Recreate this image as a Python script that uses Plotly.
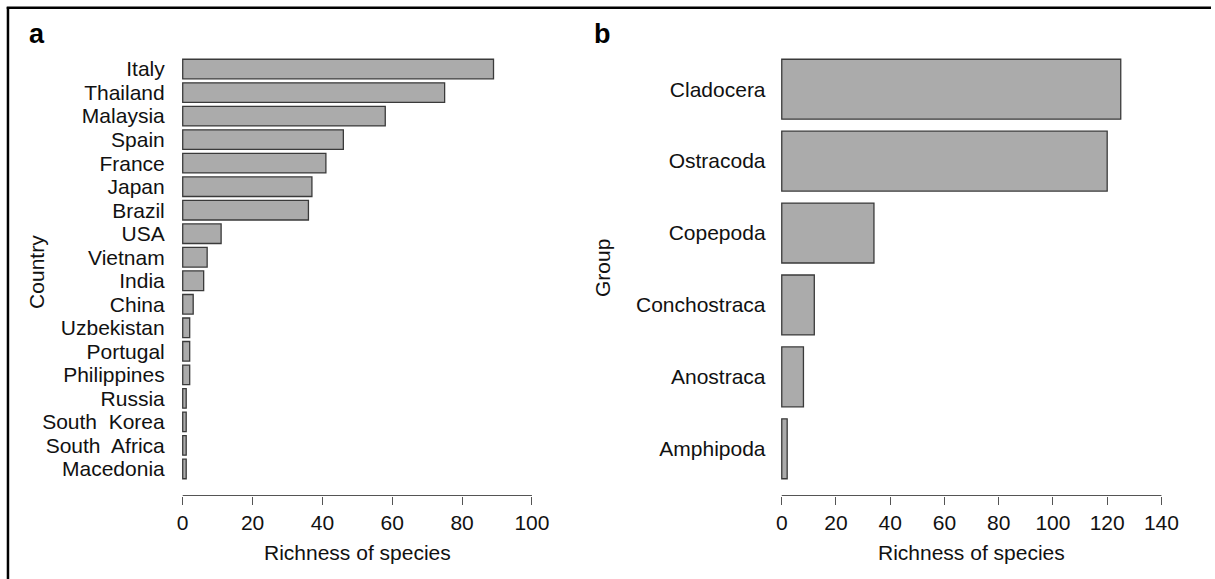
import plotly.graph_objects as go

# ---- data ----
countries = ["Italy", "Thailand", "Malaysia", "Spain", "France", "Japan", "Brazil", "USA",
             "Vietnam", "India", "China", "Uzbekistan", "Portugal", "Philippines", "Russia",
             "South\u00a0 Korea", "South\u00a0 Africa", "Macedonia"]
country_richness = [89, 75, 58, 46, 41, 37, 36, 11, 7, 6, 3, 2, 2, 2, 1, 1, 1, 1]

groups = ["Cladocera", "Ostracoda", "Copepoda", "Conchostraca", "Anostraca", "Amphipoda"]
group_richness = [125, 120, 34, 12, 8, 2]

ticks_a = [0, 20, 40, 60, 80, 100]
ticks_b = [0, 20, 40, 60, 80, 100, 120, 140]

W, H = 1215, 579
FONT = "Liberation Sans, Arial, sans-serif"
FS = 21
BAR_FILL = "#ABABAB"
BAR_LINE = "#3a3a3a"
AX_COL = "#555555"

def px(x):
    return x / W

def py(y):
    return 1 - y / H

fig = go.Figure()
fig.add_trace(go.Bar(x=country_richness, y=countries, orientation="h",
                     marker=dict(color=BAR_FILL, line=dict(color=BAR_LINE, width=1.3)),
                     xaxis="x", yaxis="y", showlegend=False))
fig.add_trace(go.Bar(x=group_richness, y=groups, orientation="h",
                     marker=dict(color=BAR_FILL, line=dict(color=BAR_LINE, width=1.3)),
                     xaxis="x2", yaxis="y2", showlegend=False))

# R-style 4% padding around bar extent
bw = 1 / 1.2
pad_a = 0.713
pad_b = 0.233
ydom = [py(495.5), py(42.5)]

common_x = dict(showgrid=False, zeroline=False, showline=False, ticks="outside", ticklen=8,
                tickwidth=1.2, tickcolor=AX_COL, tickfont=dict(family=FONT, size=FS, color="#111"))
common_y = dict(type="category", showgrid=False, zeroline=False, showline=False, ticks="",
                tickmode="array", tickfont=dict(family=FONT, size=FS, color="#111"))

fig.update_layout(
    width=W, height=H, margin=dict(l=0, r=0, t=0, b=0),
    paper_bgcolor="white", plot_bgcolor="white",
    bargap=1 - bw,
    xaxis=dict(domain=[px(169.3), px(547.7)], range=[-4, 104], tickvals=ticks_a, anchor="y", **common_x),
    yaxis=dict(domain=ydom, anchor="x", categoryorder="array", categoryarray=countries,
               tickvals=countries, ticktext=countries, ticklabelstandoff=3,
               range=[len(countries) - 1 + bw / 2 + pad_a, -bw / 2 - pad_a], **common_y),
    xaxis2=dict(domain=[px(769.1), px(1180.5)], range=[-5.6, 145.6], tickvals=ticks_b, anchor="y2", **common_x),
    yaxis2=dict(domain=ydom, anchor="x2", categoryorder="array", categoryarray=groups,
                tickvals=groups, ticktext=groups,
                range=[len(groups) - 1 + bw / 2 + pad_b, -bw / 2 - pad_b], **common_y),
)

shapes = [
    dict(type="line", xref="x", yref="y domain", x0=ticks_a[0], x1=ticks_a[-1], y0=0, y1=0,
         line=dict(color=AX_COL, width=1.2)),
    dict(type="line", xref="x2", yref="y2 domain", x0=ticks_b[0], x1=ticks_b[-1], y0=0, y1=0,
         line=dict(color=AX_COL, width=1.2)),
    # outer frame (left and top visible)
    dict(type="line", xref="paper", yref="paper", x0=px(8), x1=px(8), y0=0, y1=py(7),
         line=dict(color="black", width=2.5)),
    dict(type="line", xref="paper", yref="paper", x0=px(6.75), x1=1, y0=py(7.8), y1=py(7.8),
         line=dict(color="black", width=2.5)),
]
fig.update_layout(shapes=shapes)

ann = [
    dict(text="<b>a</b>", x=px(27), y=py(34), xanchor="left", yanchor="middle", font=dict(family=FONT, size=27, color="black")),
    dict(text="<b>b</b>", x=px(594), y=py(34), xanchor="left", yanchor="middle", font=dict(family=FONT, size=27, color="black")),
    dict(text="Richness of species", x=px(358.5), y=py(552), xanchor="center", yanchor="middle", font=dict(family=FONT, size=FS, color="#111")),
    dict(text="Richness of species", x=px(974.8), y=py(552), xanchor="center", yanchor="middle", font=dict(family=FONT, size=FS, color="#111")),
    dict(text="Country", x=px(36), y=py(272), xanchor="center", yanchor="middle", textangle=-90, font=dict(family=FONT, size=FS, color="#111")),
    dict(text="Group", x=px(605), y=py(268), xanchor="center", yanchor="middle", textangle=-90, font=dict(family=FONT, size=FS, color="#111")),
]
for a in ann:
    a.update(xref="paper", yref="paper", showarrow=False)
fig.update_layout(annotations=ann)

fig.write_html("out.html")
